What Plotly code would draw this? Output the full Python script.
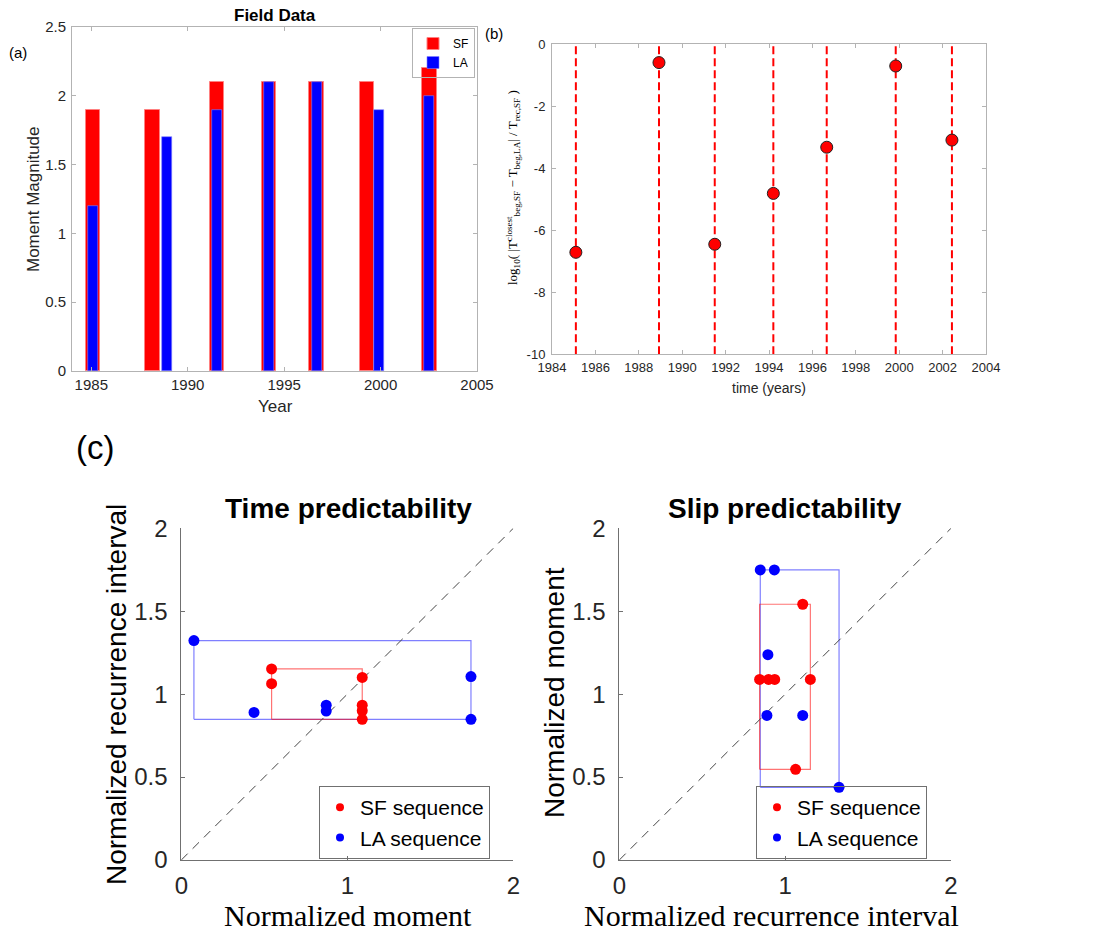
import plotly.graph_objects as go

W, H = 1097, 932


def px(x):
    return x / W


def py(y):
    return 1 - y / H


# ---------------- data ----------------
# (a) Field data: moment magnitude per event
sf_years = [1985.08, 1988.17, 1991.51, 1994.22, 1996.68, 1999.30, 2002.52]
sf_mag = [1.9, 1.9, 2.1, 2.1, 2.1, 2.1, 2.2]
la_years = [1985.08, 1988.91, 1991.51, 1994.22, 1996.68, 1999.92, 2002.52]
la_mag = [1.2, 1.7, 1.9, 2.1, 2.1, 1.9, 2.0]
a_xticks = [1985, 1990, 1995, 2000, 2005]
a_yticks = [0, 0.5, 1, 1.5, 2, 2.5]

# (b) log10 of normalised time offset
b_times = [1985.10, 1988.93, 1991.50, 1994.20, 1996.66, 1999.84, 2002.43]
b_logratio = [-6.71, -0.59, -6.45, -4.81, -3.32, -0.70, -3.09]
b_xticks = [1984, 1986, 1988, 1990, 1992, 1994, 1996, 1998, 2000, 2002, 2004]
b_yticks = [0, -2, -4, -6, -8, -10]

# (c) time predictability: x = normalized moment, y = normalized recurrence interval
tp_sf_moment = [0.544, 0.544, 1.090, 1.090, 1.090, 1.090]
tp_sf_recur = [1.152, 1.063, 1.101, 0.933, 0.900, 0.848]
tp_la_moment = [0.076, 0.438, 0.873, 0.873, 1.745, 1.745]
tp_la_recur = [1.323, 0.890, 0.933, 0.898, 1.106, 0.848]

# (c) slip predictability: x = normalized recurrence interval, y = normalized moment
sp_sf_recur = [1.106, 0.846, 0.900, 0.937, 1.152, 1.063]
sp_sf_moment = [1.542, 1.089, 1.089, 1.089, 1.089, 0.547]
sp_la_recur = [0.850, 0.935, 0.896, 0.890, 1.106, 1.325]
sp_la_moment = [1.749, 1.749, 1.238, 0.872, 0.872, 0.438]

c_xticks = [0, 1, 2]
c_yticks = [0, 0.5, 1, 1.5, 2]
diag = [0, 2]

SANS = "Liberation Sans, Arial, Helvetica, sans-serif"
SERIF = "Liberation Serif, Times New Roman, serif"
TXT = "#262626"


def box(xs, ys):
    x0, x1 = min(xs), max(xs)
    y0, y1 = min(ys), max(ys)
    return [x0, x1, x1, x0, x0], [y0, y0, y1, y1, y0]


fig = go.Figure()

# ---------- (a) bars ----------
fig.add_trace(go.Bar(x=sf_years, y=sf_mag, width=0.76, name="SF",
                     marker=dict(color="#ff0000", line=dict(color="#ff8080", width=1)),
                     xaxis="x", yaxis="y", legend="legend"))
fig.add_trace(go.Bar(x=la_years, y=la_mag, width=0.52, name="LA",
                     marker=dict(color="#0000ff", line=dict(color="#8080ff", width=0.6)),
                     xaxis="x", yaxis="y", legend="legend"))

# ---------- (b) ----------
for t in b_times:
    fig.add_trace(go.Scatter(x=[t, t], y=[b_yticks[-1], b_yticks[0]], mode="lines",
                             line=dict(color="#ff0000", width=2, dash="8px,4px"),
                             showlegend=False, hoverinfo="skip", xaxis="x2", yaxis="y2"))
fig.add_trace(go.Scatter(x=b_times, y=b_logratio, mode="markers",
                         marker=dict(color="#ff0000", size=12, line=dict(color="#222222", width=1)),
                         showlegend=False, xaxis="x2", yaxis="y2"))

# ---------- (c) panels ----------
panels = [
    ("x3", "y3", "legend2", tp_sf_moment, tp_sf_recur, tp_la_moment, tp_la_recur),
    ("x4", "y4", "legend3", sp_sf_recur, sp_sf_moment, sp_la_recur, sp_la_moment),
]
for xa, ya, lg, sfx, sfy, lax, lay in panels:
    bx, by = box(lax, lay)
    fig.add_trace(go.Scatter(x=bx, y=by, mode="lines", line=dict(color="rgba(0,0,255,0.5)", width=1.2),
                             showlegend=False, hoverinfo="skip", xaxis=xa, yaxis=ya))
    bx, by = box(sfx, sfy)
    fig.add_trace(go.Scatter(x=bx, y=by, mode="lines", line=dict(color="rgba(255,0,0,0.55)", width=1.2),
                             showlegend=False, hoverinfo="skip", xaxis=xa, yaxis=ya))
    fig.add_trace(go.Scatter(x=diag, y=diag, mode="lines", line=dict(color="#444444", width=1, dash="9px,7px"),
                             showlegend=False, hoverinfo="skip", xaxis=xa, yaxis=ya))
    fig.add_trace(go.Scatter(x=sfx, y=sfy, mode="markers", marker=dict(color="#ff0000", size=11),
                             showlegend=False, xaxis=xa, yaxis=ya))
    fig.add_trace(go.Scatter(x=lax, y=lay, mode="markers", marker=dict(color="#0000ff", size=11),
                             showlegend=False, xaxis=xa, yaxis=ya))
    fig.add_trace(go.Scatter(x=[None], y=[None], mode="markers", marker=dict(color="#ff0000", size=8),
                             name="SF sequence", legend=lg, xaxis=xa, yaxis=ya))
    fig.add_trace(go.Scatter(x=[None], y=[None], mode="markers", marker=dict(color="#0000ff", size=8),
                             name="LA sequence", legend=lg, xaxis=xa, yaxis=ya))


def boxed_axis(domain, rng, tickvals, ticktext, anchor, fs, standoff, lc="#b3b3b3"):
    return dict(domain=domain, range=rng, tickvals=tickvals, ticktext=ticktext, anchor=anchor,
                showline=True, linecolor=lc, linewidth=1, mirror="ticks",
                ticks="inside", ticklen=4, tickcolor=lc, tickwidth=1,
                showgrid=False, zeroline=False, ticklabelstandoff=standoff, automargin=False,
                tickfont=dict(family=SANS, size=fs, color=TXT), fixedrange=True)


def open_axis(domain, rng, tickvals, anchor, standoff):
    return dict(domain=domain, range=rng, tickvals=tickvals,
                ticktext=[("%g" % v) for v in tickvals], anchor=anchor,
                showline=True, linecolor="#707070", linewidth=1, mirror=False,
                ticks="inside", ticklen=4, tickcolor="#707070", tickwidth=1,
                showgrid=False, zeroline=False, ticklabelstandoff=standoff, automargin=False,
                tickfont=dict(family=SANS, size=24, color=TXT), fixedrange=True)


ann = []


def label(text, x, y, size, bold=False, angle=0, family=SANS, color="black"):
    if bold:
        text = "<b>" + text + "</b>"
    ann.append(dict(text=text, x=px(x), y=py(y), xref="paper", yref="paper",
                    xanchor="center", yanchor="middle", showarrow=False, textangle=angle,
                    font=dict(family=family, size=size, color=color)))


# (a)
label("Field Data", 275, 15, 17, bold=True)
label("Year", 275, 406, 17, color=TXT)
label("Moment Magnitude", 33, 199, 17, angle=-90, color=TXT)
label("(a)", 18, 52, 15)
# (b)
label("(b)", 494, 34, 15)
label("time (years)", 769, 388, 14, color=TXT)
label("log<sub>10</sub>( |T<sup>closest</sup><sub>beg,SF</sub> − T<sub>beg,LA</sub>| / T<sub>rec,SF</sub> )",
      513, 188, 13, angle=-90, family=SERIF)
# (c)
label("(c)", 95, 447, 33)
label("Time predictability", 348, 508, 28, bold=True)
label("Slip predictability", 785, 508, 28, bold=True)
label("Normalized recurrence interval", 116, 695, 28, angle=-90)
label("Normalized moment", 554, 693, 28, angle=-90)
label("Normalized moment", 348, 915, 30, family=SERIF)
label("Normalized recurrence interval", 772, 915, 30, family=SERIF)

fig.update_layout(
    width=W, height=H, autosize=False,
    margin=dict(l=0, r=0, t=0, b=0, pad=0, autoexpand=False),
    paper_bgcolor="white", plot_bgcolor="rgba(0,0,0,0)",
    barmode="overlay", bargap=0,
    showlegend=True,
    annotations=ann,
    xaxis=boxed_axis([px(72), px(477)], [1984, 2005], a_xticks, [str(v) for v in a_xticks], "y", 15, 0),
    yaxis=boxed_axis([py(371), py(27)], [0, 2.5], a_yticks, ["%g" % v for v in a_yticks], "x", 15, 2),
    xaxis2=boxed_axis([px(552), px(986)], [1984, 2004], b_xticks, [str(v) for v in b_xticks], "y2", 13, 1),
    yaxis2=boxed_axis([py(354.3), py(44.3)], [-10, 0], b_yticks, ["%g" % v for v in b_yticks], "x2", 13, 3),
    xaxis3=open_axis([px(181.3), px(513.3)], [0, 2], c_xticks, "y3", 4),
    yaxis3=open_axis([py(860), py(528.3)], [0, 2], c_yticks, "x3", 8),
    xaxis4=open_axis([px(619.3), px(951)], [0, 2], c_xticks, "y4", 4),
    yaxis4=open_axis([py(860), py(528.3)], [0, 2], c_yticks, "x4", 8),
    legend=dict(x=px(475), y=py(28), xanchor="right", yanchor="top",
                bgcolor="rgba(255,255,255,0)", bordercolor="#b3b3b3", borderwidth=1,
                font=dict(family=SANS, size=12, color="black"),
                itemwidth=30, tracegroupgap=0, traceorder="normal"),
    legend2=dict(x=px(319), y=py(859), xanchor="left", yanchor="bottom",
                 bgcolor="rgba(255,255,255,0)", bordercolor="#707070", borderwidth=1,
                 font=dict(family=SANS, size=21, color="black"), itemwidth=30),
    legend3=dict(x=px(756), y=py(859), xanchor="left", yanchor="bottom",
                 bgcolor="rgba(255,255,255,0)", bordercolor="#707070", borderwidth=1,
                 font=dict(family=SANS, size=21, color="black"), itemwidth=30),
)

fig.write_html("out.html")
